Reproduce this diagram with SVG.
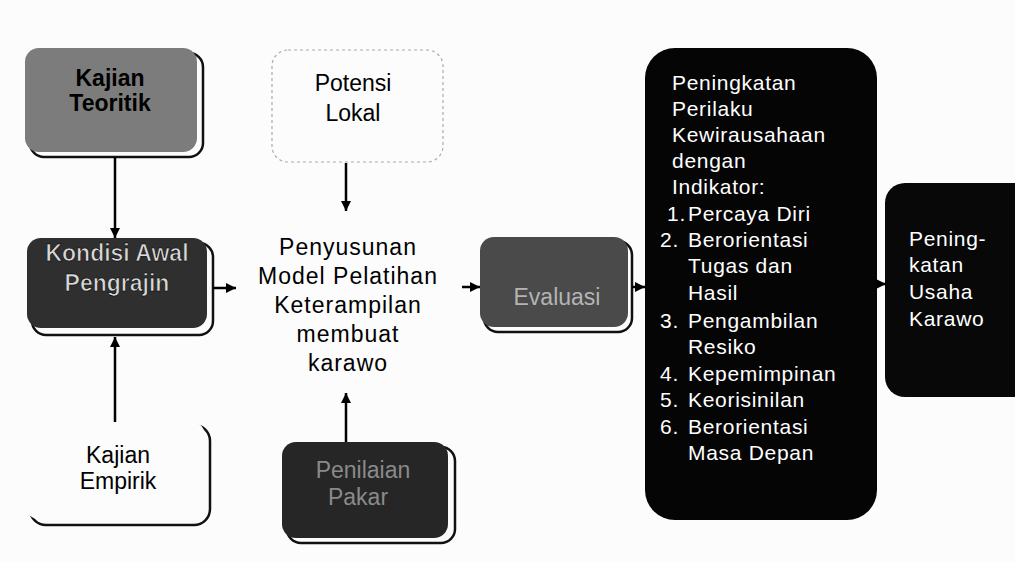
<svg xmlns="http://www.w3.org/2000/svg" width="1015" height="562" viewBox="0 0 1015 562">
<defs>
<marker id="ah" viewBox="0 0 10 10" refX="10" refY="5" markerWidth="10" markerHeight="10" markerUnits="userSpaceOnUse" orient="auto">
<path d="M0,0 L10,5 L0,10 z" fill="#000"/>
</marker>
<style>
.t{font-family:"Liberation Sans",Arial,sans-serif;}
.lbl{font-size:23px;text-anchor:middle;}
.b{font-weight:bold;}
.conn line{stroke:#000;stroke-width:2.5;marker-end:url(#ah);}
.shadow{fill:none;stroke:#111;stroke-width:2.5;}
.big{font-size:21px;fill:#fff;letter-spacing:0.7px;}
</style>
</defs>
<rect width="1015" height="562" fill="#fcfcfc"/>

<g id="kajian-teoritik">
<rect class="shadow" x="30" y="53" width="173" height="104" rx="14"/>
<rect x="25" y="48" width="172" height="104" rx="14" fill="#7c7c7c"/>
<text class="t lbl b" x="110" y="86" fill="#000">Kajian</text>
<text class="t lbl b" x="110" y="111" fill="#000">Teoritik</text>
</g>

<g id="kondisi-awal">
<rect class="shadow" x="32" y="243" width="181" height="92" rx="14"/>
<rect x="27" y="238" width="180" height="90" rx="14" fill="#2f2f2f"/>
<text class="t lbl b" x="117" y="261" fill="#d8d8d8" stroke="#000" stroke-width="0.6">Kondisi Awal</text>
<text class="t lbl b" x="117" y="291" fill="#d8d8d8" stroke="#000" stroke-width="0.6">Pengrajin</text>
</g>

<g id="kajian-empirik">
<rect class="shadow" x="30" y="425" width="180" height="100" rx="16"/>
<rect x="25" y="420" width="180" height="100" rx="16" fill="#fcfcfc"/>
<text class="t lbl" x="118" y="463" fill="#000">Kajian</text>
<text class="t lbl" x="118" y="489" fill="#000">Empirik</text>
</g>

<g id="potensi-lokal">
<rect x="272" y="50" width="171" height="112" rx="16" fill="#fcfcfc" stroke="#aaa" stroke-width="1.2" stroke-dasharray="3 3"/>
<text class="t lbl" x="353" y="91" fill="#000">Potensi</text>
<text class="t lbl" x="353" y="121" fill="#000">Lokal</text>
</g>

<g id="penyusunan">
<text class="t lbl" x="348" y="255" fill="#000" letter-spacing="1" font-size="24">Penyusunan</text>
<text class="t lbl" x="348" y="284" fill="#000" letter-spacing="1" font-size="24">Model Pelatihan</text>
<text class="t lbl" x="348" y="313" fill="#000" letter-spacing="1" font-size="24">Keterampilan</text>
<text class="t lbl" x="348" y="342" fill="#000" letter-spacing="1" font-size="24">membuat</text>
<text class="t lbl" x="348" y="371" fill="#000" letter-spacing="1" font-size="24">karawo</text>
</g>

<g id="penilaian-pakar">
<rect class="shadow" x="287" y="447" width="168" height="96" rx="14"/>
<rect x="282" y="442" width="166" height="96" rx="14" fill="#262626"/>
<text class="t lbl" x="363" y="478" fill="#8a8a8a">Penilaian</text>
<text class="t lbl" x="358" y="505" fill="#8a8a8a">Pakar</text>
</g>

<g id="evaluasi">
<rect class="shadow" x="484" y="241" width="148" height="91" rx="14"/>
<rect x="480" y="237" width="148" height="90" rx="14" fill="#4a4a4a"/>
<text class="t lbl" x="557" y="305" fill="#b4b4b4">Evaluasi</text>
</g>

<g id="peningkatan-perilaku">
<rect x="645" y="48" width="232" height="472" rx="30" fill="#050505"/>
<text class="t big" x="672" y="90">Peningkatan</text>
<text class="t big" x="672" y="116">Perilaku</text>
<text class="t big" x="672" y="142">Kewirausahaan</text>
<text class="t big" x="672" y="168">dengan</text>
<text class="t big" x="672" y="194">Indikator:</text>
<text class="t big" x="667" y="221">1.</text><text class="t big" x="688" y="221">Percaya Diri</text>
<text class="t big" x="660" y="247">2.</text><text class="t big" x="688" y="247">Berorientasi</text>
<text class="t big" x="688" y="273">Tugas dan</text>
<text class="t big" x="688" y="300">Hasil</text>
<text class="t big" x="660" y="328">3.</text><text class="t big" x="688" y="328">Pengambilan</text>
<text class="t big" x="688" y="354">Resiko</text>
<text class="t big" x="660" y="381">4.</text><text class="t big" x="688" y="381">Kepemimpinan</text>
<text class="t big" x="660" y="407">5.</text><text class="t big" x="688" y="407">Keorisinilan</text>
<text class="t big" x="660" y="434">6.</text><text class="t big" x="688" y="434">Berorientasi</text>
<text class="t big" x="688" y="460">Masa Depan</text>
</g>

<g id="peningkatan-usaha">
<rect x="885" y="183" width="150" height="214" rx="20" fill="#080808"/>
<text class="t big" x="909" y="246">Pening-</text>
<text class="t big" x="909" y="272">katan</text>
<text class="t big" x="909" y="299">Usaha</text>
<text class="t big" x="909" y="326">Karawo</text>
</g>

<g id="connectors" class="conn">
<line x1="115" y1="157" x2="115" y2="238"/>
<line x1="115" y1="422" x2="115" y2="337"/>
<line x1="213" y1="288" x2="236" y2="288"/>
<line x1="346" y1="163" x2="346" y2="211"/>
<line x1="346" y1="442" x2="346" y2="393"/>
<line x1="462" y1="287" x2="480" y2="287"/>
<line x1="632" y1="287" x2="645" y2="287"/>
<line x1="877" y1="284" x2="886" y2="284"/>
</g>
</svg>
